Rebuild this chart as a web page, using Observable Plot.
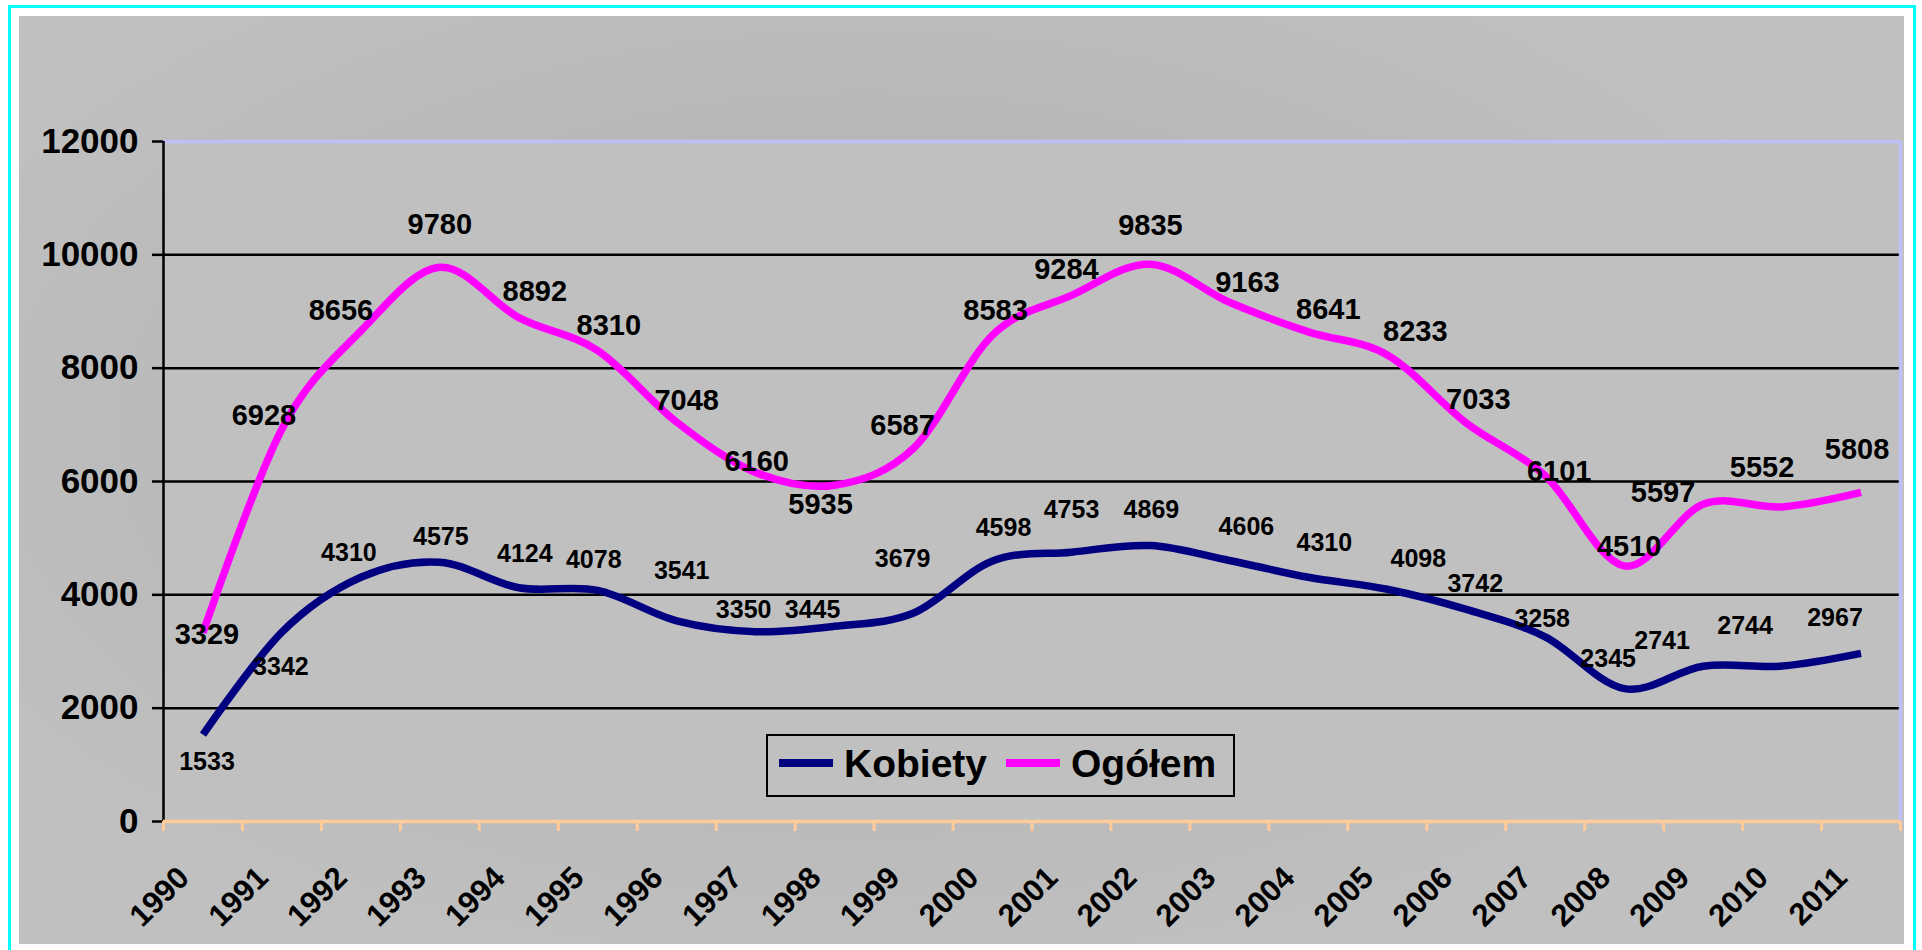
<!DOCTYPE html>
<html>
<head>
<meta charset="utf-8">
<script src="https://cdn.jsdelivr.net/npm/d3@7"></script>
<script src="https://cdn.jsdelivr.net/npm/@observablehq/plot@0.6"></script>
<style>
  html, body { margin: 0; padding: 0; background: #ffffff; }
  #wrap { position: relative; width: 1922px; height: 950px; overflow: hidden; font-family: "Liberation Sans", Arial, sans-serif; }
  #cyan { position: absolute; left: 8px; top: 5px; width: 1908px; height: 970px; border: 3px solid #00ffff; box-sizing: border-box; }
  #bg { position: absolute; left: 19px; top: 16px; width: 1885px; height: 928px;
        background: radial-gradient(ellipse 55% 60% at 45% 45%, #b2b2b2 0%, #b6b6b6 45%, #c0c0c0 100%); }
  #chart { position: absolute; left: 0; top: 0; }
  #legend { position: absolute; left: 766px; top: 734px; width: 469px; height: 63px; box-sizing: border-box;
            border: 2.5px solid #000; background: #c0c0c0; }
  #legend .sw { position: absolute; top: 23px; width: 54px; height: 8px; }
  #legend .lb { position: absolute; top: 3px; font-size: 39px; font-weight: bold; line-height: 50px; color: #000; }
</style>
</head>
<body>
<div id="wrap">
  <div id="cyan"></div>
  <div id="bg"></div>
  <div id="chart"></div>
  <div id="legend"></div>
</div>
<script>
// ---- data ----
const years = [1990,1991,1992,1993,1994,1995,1996,1997,1998,1999,2000,2001,2002,2003,2004,2005,2006,2007,2008,2009,2010,2011];
const kobiety = [1533,3342,4310,4575,4124,4078,3541,3350,3445,3679,4598,4753,4869,4606,4310,4098,3742,3258,2345,2741,2744,2967];
const ogolem  = [3329,6928,8656,9780,8892,8310,7048,6160,5935,6587,8583,9284,9835,9163,8641,8233,7033,6101,4510,5597,5552,5808];
const seriesNames = ["Kobiety", "Ogółem"];
const seriesColors = ["#000080", "#ff00ff"];
const yTicks = [0, 2000, 4000, 6000, 8000, 10000, 12000];

// label offsets in pixels (dx, dy) relative to each point, as placed in the original
const ogolemLabelDx = [4,-18,-20,0,16,11,10,1,-14,-11,3,-5,0,18,20,28,12,14,5,-40,-20,-4];
const ogolemLabelDy = [2,-13,-20,-43,-26,-25,-21,-11,20,-23,-24,-26,-38,-20,-22,-23,-23,-4,-19,-12,-39,-43];
const kobietyLabelDx = [4,-1,-12,1,6,-4,5,-12,-22,-11,11,0,1,17,16,31,9,-3,-16,-41,-37,-26];
const kobietyLabelDy = [27,35,-24,-25,-34,-30,-50,-22,-16,-54,-33,-42,-36,-33,-34,-30,-25,-18,-30,-25,-40,-35];

// ---- build ----
const rows = [];
years.forEach((year, i) => {
  rows.push({year, value: kobiety[i], series: seriesNames[0]});
  rows.push({year, value: ogolem[i], series: seriesNames[1]});
});
const boundaries = years.map(y => y - 0.5).concat([years[years.length - 1] + 0.5]);
const xDomain = [boundaries[0], boundaries[boundaries.length - 1]];
const gridValues = yTicks.filter(v => v > 0 && v < yTicks[yTicks.length - 1]);
const FONT = "Liberation Sans, Arial, sans-serif";

const labelMarks = [];
years.forEach((year, i) => {
  labelMarks.push(Plot.text([{year, value: ogolem[i]}], {
    x: "year", y: "value", text: d => String(d.value),
    dx: ogolemLabelDx[i], dy: ogolemLabelDy[i],
    fontSize: 29, fontWeight: "bold", fill: "black", lineAnchor: "middle", textAnchor: "middle"
  }));
  labelMarks.push(Plot.text([{year, value: kobiety[i]}], {
    x: "year", y: "value", text: d => String(d.value),
    dx: kobietyLabelDx[i], dy: kobietyLabelDy[i],
    fontSize: 25, fontWeight: "bold", fill: "black", lineAnchor: "middle", textAnchor: "middle"
  }));
});

const chart = Plot.plot({
  width: 1922,
  height: 950,
  marginLeft: 163,
  marginRight: 22,
  marginTop: 141,
  marginBottom: 129,
  style: {background: "transparent", fontFamily: FONT, color: "black"},
  x: {type: "linear", domain: xDomain, axis: null},
  y: {domain: [yTicks[0], yTicks[yTicks.length - 1]], axis: null},
  color: {domain: seriesNames, range: seriesColors},
  marks: [
    Plot.frame({fill: "#c0c0c0", stroke: null}),
    Plot.ruleY(gridValues, {stroke: "black", strokeWidth: 2.5}),
    Plot.ruleY([yTicks[yTicks.length - 1]], {stroke: "#bfbff5", strokeWidth: 3.5}),
    Plot.ruleX([xDomain[1]], {stroke: "#bfbff5", strokeWidth: 3.5}),
    Plot.axisY({ticks: yTicks, tickSize: 11, tickPadding: 14, tickFormat: d => String(d), label: null,
                fontSize: 35, fontWeight: "bold", fontFamily: "Liberation Sans Narrow, Liberation Sans, Arial, sans-serif",
                stroke: "black", strokeWidth: 2.5, fill: "black"}),
    Plot.ruleX([xDomain[0]], {stroke: "black", strokeWidth: 2.5}),
    Plot.axisX({ticks: boundaries, tickSize: 10, tickFormat: () => "", label: null, stroke: "#ffcc99", strokeWidth: 3}),
    Plot.ruleY([0], {stroke: "#ffcc99", strokeWidth: 3.5}),
    Plot.text(years, {x: d => d, frameAnchor: "bottom", text: d => String(d),
                      rotate: -45, textAnchor: "end", lineAnchor: "bottom",
                      dx: -12, dy: 58, fontSize: 31, fontWeight: "bold", fill: "black"}),
    Plot.line(rows, {x: "year", y: "value", z: "series", stroke: "series",
                     strokeWidth: 7.5, curve: "cardinal", strokeLinecap: "butt", strokeLinejoin: "round"}),
    ...labelMarks
  ]
});
document.getElementById("chart").appendChild(chart);

// legend
const legend = document.getElementById("legend");
const legendLayout = [{sw: 11, lb: 76}, {sw: 238, lb: 303}];
seriesNames.forEach((name, i) => {
  const sw = document.createElement("div");
  sw.className = "sw";
  sw.style.left = legendLayout[i].sw + "px";
  sw.style.background = seriesColors[i];
  legend.appendChild(sw);
  const lb = document.createElement("div");
  lb.className = "lb";
  lb.style.left = legendLayout[i].lb + "px";
  lb.textContent = name;
  legend.appendChild(lb);
});
</script>
</body>
</html>
